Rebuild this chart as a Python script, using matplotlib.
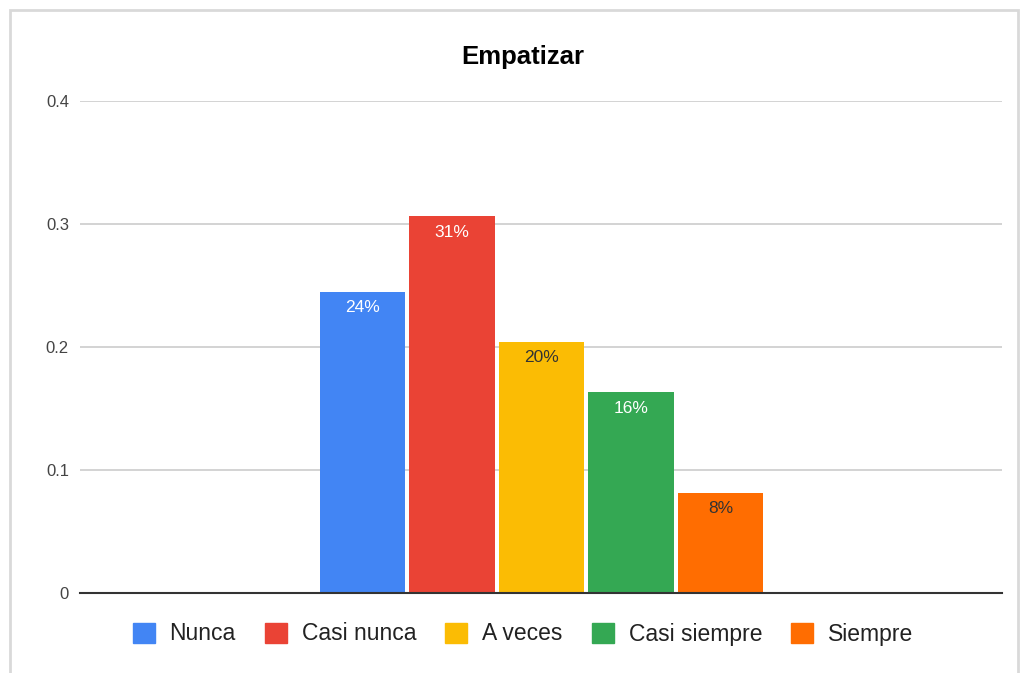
import matplotlib.pyplot as plt
from matplotlib.patches import Rectangle, Patch

categories = ['Nunca', 'Casi nunca', 'A veces', 'Casi siempre', 'Siempre']
values = [12 / 49, 15 / 49, 10 / 49, 8 / 49, 4 / 49]
labels = ['24%', '31%', '20%', '16%', '8%']
colors = ['#4285F4', '#EA4335', '#FBBC04', '#34A853', '#FF6D01']
label_colors = ['white', 'white', '#333333', 'white', '#333333']
yticks = [0, 0.1, 0.2, 0.3, 0.4]
ytick_labels = ['0', '0.1', '0.2', '0.3', '0.4']

plt.rcParams['font.family'] = ['Liberation Sans', 'DejaVu Sans']

fig = plt.figure(figsize=(10.26, 6.73), dpi=100)
# outer chart border
fig.patches.append(Rectangle((10 / 1026, -0.1), 1008 / 1026, 1.1 - 10 / 673,
                             transform=fig.transFigure, fill=False,
                             edgecolor='#d9d9d9', linewidth=2))

ax = fig.add_axes([80 / 1026, 80 / 673, 922 / 1026, 492 / 673])
x = list(range(len(categories)))
bars = ax.bar(x, values, width=0.95, color=colors, zorder=3)

for b, lab, c in zip(bars, labels, label_colors):
    ax.annotate(lab, (b.get_x() + b.get_width() / 2, b.get_height()),
                xytext=(0, -11.5), textcoords='offset points',
                ha='center', va='center', color=c, fontsize=12.5, zorder=4)

ax.set_xlim(2 - 5.156, 2 + 5.145)
ax.set_ylim(0, 0.4)
ax.set_yticks(yticks)
ax.set_yticklabels(ytick_labels)
ax.set_xticks([])
ax.tick_params(axis='y', length=0, pad=8, labelsize=12, labelcolor='#444444')
ax.grid(axis='y', color='#cccccc', linewidth=1.2, zorder=0)
for s in ['top', 'right', 'left']:
    ax.spines[s].set_visible(False)
ax.spines['bottom'].set_color('#333333')
ax.spines['bottom'].set_linewidth(1.5)
ax.spines['bottom'].set_zorder(5)

fig.text(523 / 1026, 1 - 57 / 673, 'Empatizar', ha='center', va='center',
         fontsize=18.5, fontweight='bold', color='#000000')

handles = [Patch(facecolor=c, edgecolor=c) for c in colors]
fig.legend(handles, categories, loc='center', bbox_to_anchor=(523 / 1026, 39 / 673),
           ncol=5, frameon=False, fontsize=16.5, handlelength=0.96, handleheight=0.96,
           handletextpad=0.65, columnspacing=1.27, labelcolor='#222222')

fig.savefig('out.png', dpi=100)
